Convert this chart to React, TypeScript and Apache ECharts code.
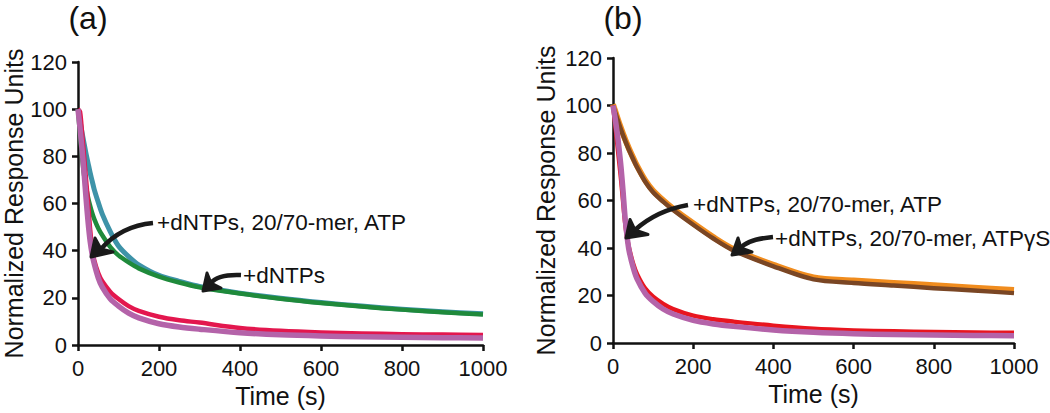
import React, { useEffect, useRef } from "react";
import * as echarts from "echarts";

// ---- data ----
const timeA = [0, 5, 10, 15, 20, 25, 30, 35, 40, 50, 60, 80, 100, 125, 150, 200, 250, 300, 400, 500, 600, 700, 800, 900, 1000];
const tealA = [100, 95, 90, 85.5, 81, 77, 73, 69.5, 66, 60.5, 55.5, 48, 42, 37.5, 34, 29.5, 27, 24.8, 22, 19.8, 18, 16.5, 15.2, 14.1, 13.2];
const greenA = [100, 89, 80, 72, 67, 62.5, 59, 56, 53.5, 49.5, 46.5, 41.5, 38, 35, 32.5, 29, 26.5, 24.5, 21.8, 19.6, 17.8, 16.3, 15, 13.9, 12.9];
const redA = [100, 99, 90, 80, 70, 60, 49, 41, 36, 30.5, 27, 22.5, 19.5, 16.5, 14.5, 12, 10.5, 9.5, 7.2, 6, 5.3, 4.9, 4.6, 4.4, 4.2];
const purpleA = [100, 92, 83, 73, 62, 52, 44, 38.5, 34.5, 28.5, 24.5, 19.5, 16.5, 13.5, 11.5, 9, 7.6, 6.7, 5.2, 4.3, 3.8, 3.5, 3.3, 3.1, 3];

const timeB = [0, 5, 10, 15, 20, 25, 30, 35, 40, 50, 60, 80, 100, 125, 150, 200, 250, 300, 400, 500, 600, 700, 800, 900, 1000];
const orangeB = [100.5, 97.9, 95.3, 92.8, 90.4, 88.1, 85.9, 83.8, 81.8, 78.1, 74.6, 68.6, 64.1, 60.1, 56.6, 50.4, 44.6, 39.6, 32.9, 27.6, 26.3, 25.3, 24.3, 23.3, 22.3];
const brownB = [100, 97.3, 94.7, 92.2, 89.8, 87.5, 85.3, 83.2, 81.2, 77.5, 74, 68, 63.5, 59.5, 56, 49.8, 44, 39, 32.3, 26.8, 25.3, 24.2, 23.1, 22.1, 21];
const redB = [100, 93, 85, 77, 69, 60, 51, 44.5, 40, 33.5, 29, 23, 19.5, 16.5, 14.3, 11.5, 10, 9, 7.3, 6, 5.3, 4.9, 4.6, 4.4, 4.3];
const purpleB = [100, 95, 89, 82, 74, 64, 53, 45, 39, 32, 27, 21, 17.5, 14.3, 12.2, 9.5, 8, 7, 5.5, 4.5, 3.9, 3.6, 3.4, 3.2, 3.1];

const panelLabels = ["(a)", "(b)"];
const annotationsA = ["+dNTPs, 20/70-mer, ATP", "+dNTPs"];
const annotationsB = ["+dNTPs, 20/70-mer, ATP", "+dNTPs, 20/70-mer, ATP\u03b3S"];
const xTitle = "Time (s)";
const yTitle = "Normalized Response Units";

const FONT = "'Liberation Sans', Arial, Helvetica, sans-serif";
const INK = "#111111";

function zip(t: number[], v: number[]) {
  return t.map((x, i) => [x, v[i]]);
}

function makeAxes(idx: number, yGap: number) {
  const common = {
    gridIndex: idx,
    axisLine: { show: true, onZero: false, lineStyle: { color: INK, width: 2.5 } },
    axisTick: { show: true, inside: false, length: 6, lineStyle: { color: INK, width: 2.5 } },
    splitLine: { show: false },
  };
  const x = {
    ...common,
    type: "value",
    min: 0,
    max: 1000,
    interval: 200,
    name: xTitle,
    nameLocation: "middle",
    nameGap: 33,
    nameTextStyle: { fontSize: 25, color: INK, fontFamily: FONT },
    axisLabel: { fontSize: 22, color: INK, fontFamily: FONT, margin: 12, formatter: (v: number) => String(v) },
  };
  const y = {
    ...common,
    type: "value",
    min: 0,
    max: 120,
    interval: 20,
    name: yTitle,
    nameLocation: "middle",
    nameGap: yGap,
    nameTextStyle: { fontSize: 25, color: INK, fontFamily: FONT },
    axisLabel: { fontSize: 22, color: INK, fontFamily: FONT, margin: 11, formatter: (v: number) => String(v) },
  };
  return { x, y };
}

function line(idx: number, t: number[], v: number[], color: string, width: number) {
  return {
    type: "line",
    xAxisIndex: idx,
    yAxisIndex: idx,
    data: zip(t, v),
    showSymbol: false,
    smooth: 0.3,
    silent: true,
    lineStyle: { color, width, cap: "butt", join: "round" },
  };
}

function arrow(p0: number[], mid: number[], tip: number[], b1: number[], inner: number[], b2: number[]) {
  const cx = 2 * mid[0] - (p0[0] + inner[0]) / 2;
  const cy = 2 * mid[1] - (p0[1] + inner[1]) / 2;
  return [
    {
      type: "bezierCurve",
      shape: { x1: p0[0], y1: p0[1], x2: inner[0], y2: inner[1], cpx1: cx, cpy1: cy },
      style: { stroke: "#1a1a1a", lineWidth: 4.5, fill: null },
      silent: true,
      z: 100,
    },
    {
      type: "polygon",
      shape: { points: [tip, b1, inner, b2] },
      style: { fill: "#1a1a1a", stroke: "#1a1a1a", lineWidth: 3, lineJoin: "round" },
      silent: true,
      z: 100,
    },
  ];
}

function text(str: string, x: number, y: number, size: number, align = "left") {
  return {
    type: "text",
    x,
    y,
    silent: true,
    z: 100,
    style: { text: str, fontSize: size, fontFamily: FONT, fill: INK, align, verticalAlign: "middle" },
  };
}

export default function App() {
  const ref = useRef<HTMLDivElement>(null);
  useEffect(() => {
    if (!ref.current) return;
    const chart = echarts.init(ref.current, null, { renderer: "svg" });
    const a = makeAxes(0, 51);
    const b = makeAxes(1, 55);
    chart.setOption({
      animation: false,
      backgroundColor: "#ffffff",
      grid: [
        { left: 78, top: 62, width: 405, height: 283, containLabel: false, outerBoundsMode: "none" },
        { left: 613, top: 58, width: 401, height: 285, containLabel: false, outerBoundsMode: "none" },
      ],
      xAxis: [a.x, b.x],
      yAxis: [a.y, b.y],
      series: [
        line(0, timeA, tealA, "#3E93A8", 5),
        line(0, timeA, greenA, "#1F8A3B", 4.5),
        line(0, timeA, redA, "#E3174E", 4.5),
        line(0, timeA, purpleA, "#B463A9", 5.5),
        line(1, timeB, orangeB, "#F08C1E", 6),
        line(1, timeB, brownB, "#7A4624", 4.5),
        line(1, timeB, redB, "#E8151F", 4.5),
        line(1, timeB, purpleB, "#B463A9", 5.5),
      ],
      graphic: [
        text(panelLabels[0], 88, 18, 32, "center"),
        text(panelLabels[1], 623, 18, 32, "center"),
        text(annotationsA[0], 157, 222, 22.5),
        text(annotationsA[1], 243, 275, 22.5),
        text(annotationsB[0], 693, 204, 22.5),
        text(annotationsB[1], 775, 238, 22.5),
        ...arrow([153, 223], [124, 231], [91, 257], [95, 238], [101, 249], [113, 252]),
        ...arrow([241, 275], [222, 276.5], [203, 291], [207, 273], [211, 283], [221, 288]),
        ...arrow([688, 205], [659, 214], [626, 238], [630, 219.5], [635, 230], [648, 234.5]),
        ...arrow([773, 237], [752, 241], [732, 255], [738, 238], [741, 248], [752, 252]),
      ],
    });
    return () => chart.dispose();
  }, []);
  return (
    <div
      ref={ref}
      style={{ position: "absolute", left: 0, top: 0, width: 1050, height: 413, background: "#fff" }}
    />
  );
}
